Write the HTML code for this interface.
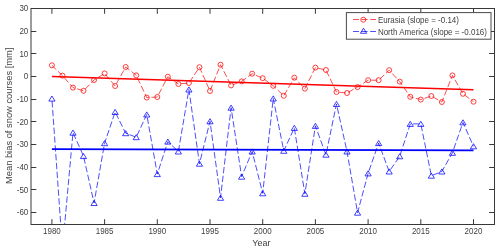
<!DOCTYPE html>
<html><head><meta charset="utf-8"><style>
html,body{margin:0;padding:0;background:#fff;}
body{width:500px;height:251px;overflow:hidden;font-family:"Liberation Sans",sans-serif;}
svg{display:block;will-change:transform;}
</style></head><body>
<svg width="500" height="251" viewBox="0 0 500 251">
<defs><clipPath id="c"><rect x="31.0" y="8.5" width="463.5" height="216.0"/></clipPath></defs>
<g clip-path="url(#c)" fill="none">
<polyline points="51.90,65.30 62.44,75.60 72.98,87.60 83.52,90.80 94.06,80.00 104.60,73.40 115.14,86.00 125.68,67.00 136.22,75.30 146.76,97.60 157.30,97.00 167.84,76.70 178.38,84.00 188.92,83.00 199.46,67.20 210.00,91.00 220.54,64.70 231.08,85.40 241.62,81.40 252.16,73.70 262.70,78.20 273.24,85.80 283.78,95.80 294.32,77.70 304.86,88.60 315.40,67.60 325.94,70.00 336.48,92.00 347.02,93.00 357.56,87.10 368.10,80.20 378.64,80.20 389.18,70.20 399.72,81.60 410.26,96.80 420.80,99.60 431.34,96.00 441.88,102.00 452.42,75.40 462.96,93.80 473.50,101.70" stroke="#ff0000" stroke-width="0.7" stroke-dasharray="6.35 2.5" stroke-dashoffset="0.25"/>
<polyline points="51.90,98.60 62.44,249.00 72.98,132.70 83.52,156.10 94.06,203.00 104.60,143.20 115.14,112.00 125.68,133.20 136.22,137.20 146.76,114.50 157.30,174.10 167.84,141.60 178.38,151.50 188.92,89.50 199.46,163.70 210.00,121.30 220.54,197.80 231.08,107.70 241.62,176.70 252.16,151.50 262.70,193.30 273.24,98.50 283.78,150.80 294.32,127.90 304.86,193.80 315.40,125.90 325.94,154.70 336.48,104.00 347.02,151.50 357.56,212.70 368.10,173.40 378.64,143.10 389.18,171.50 399.72,156.30 410.26,123.90 420.80,123.90 431.34,175.70 441.88,171.50 452.42,152.80 462.96,122.40 473.50,146.30" stroke="#0000ff" stroke-width="0.7" stroke-dasharray="6.35 2.5" stroke-dashoffset="6.35"/>
<line x1="51.90" y1="76.45" x2="473.50" y2="89.75" stroke="#ff0000" stroke-width="1.6"/>
<line x1="51.90" y1="149.1" x2="473.50" y2="150.4" stroke="#0000ff" stroke-width="1.6"/>
<circle cx="51.90" cy="65.30" r="2.5" stroke="#ff0000" stroke-width="0.75"/>
<circle cx="62.44" cy="75.60" r="2.5" stroke="#ff0000" stroke-width="0.75"/>
<circle cx="72.98" cy="87.60" r="2.5" stroke="#ff0000" stroke-width="0.75"/>
<circle cx="83.52" cy="90.80" r="2.5" stroke="#ff0000" stroke-width="0.75"/>
<circle cx="94.06" cy="80.00" r="2.5" stroke="#ff0000" stroke-width="0.75"/>
<circle cx="104.60" cy="73.40" r="2.5" stroke="#ff0000" stroke-width="0.75"/>
<circle cx="115.14" cy="86.00" r="2.5" stroke="#ff0000" stroke-width="0.75"/>
<circle cx="125.68" cy="67.00" r="2.5" stroke="#ff0000" stroke-width="0.75"/>
<circle cx="136.22" cy="75.30" r="2.5" stroke="#ff0000" stroke-width="0.75"/>
<circle cx="146.76" cy="97.60" r="2.5" stroke="#ff0000" stroke-width="0.75"/>
<circle cx="157.30" cy="97.00" r="2.5" stroke="#ff0000" stroke-width="0.75"/>
<circle cx="167.84" cy="76.70" r="2.5" stroke="#ff0000" stroke-width="0.75"/>
<circle cx="178.38" cy="84.00" r="2.5" stroke="#ff0000" stroke-width="0.75"/>
<circle cx="188.92" cy="83.00" r="2.5" stroke="#ff0000" stroke-width="0.75"/>
<circle cx="199.46" cy="67.20" r="2.5" stroke="#ff0000" stroke-width="0.75"/>
<circle cx="210.00" cy="91.00" r="2.5" stroke="#ff0000" stroke-width="0.75"/>
<circle cx="220.54" cy="64.70" r="2.5" stroke="#ff0000" stroke-width="0.75"/>
<circle cx="231.08" cy="85.40" r="2.5" stroke="#ff0000" stroke-width="0.75"/>
<circle cx="241.62" cy="81.40" r="2.5" stroke="#ff0000" stroke-width="0.75"/>
<circle cx="252.16" cy="73.70" r="2.5" stroke="#ff0000" stroke-width="0.75"/>
<circle cx="262.70" cy="78.20" r="2.5" stroke="#ff0000" stroke-width="0.75"/>
<circle cx="273.24" cy="85.80" r="2.5" stroke="#ff0000" stroke-width="0.75"/>
<circle cx="283.78" cy="95.80" r="2.5" stroke="#ff0000" stroke-width="0.75"/>
<circle cx="294.32" cy="77.70" r="2.5" stroke="#ff0000" stroke-width="0.75"/>
<circle cx="304.86" cy="88.60" r="2.5" stroke="#ff0000" stroke-width="0.75"/>
<circle cx="315.40" cy="67.60" r="2.5" stroke="#ff0000" stroke-width="0.75"/>
<circle cx="325.94" cy="70.00" r="2.5" stroke="#ff0000" stroke-width="0.75"/>
<circle cx="336.48" cy="92.00" r="2.5" stroke="#ff0000" stroke-width="0.75"/>
<circle cx="347.02" cy="93.00" r="2.5" stroke="#ff0000" stroke-width="0.75"/>
<circle cx="357.56" cy="87.10" r="2.5" stroke="#ff0000" stroke-width="0.75"/>
<circle cx="368.10" cy="80.20" r="2.5" stroke="#ff0000" stroke-width="0.75"/>
<circle cx="378.64" cy="80.20" r="2.5" stroke="#ff0000" stroke-width="0.75"/>
<circle cx="389.18" cy="70.20" r="2.5" stroke="#ff0000" stroke-width="0.75"/>
<circle cx="399.72" cy="81.60" r="2.5" stroke="#ff0000" stroke-width="0.75"/>
<circle cx="410.26" cy="96.80" r="2.5" stroke="#ff0000" stroke-width="0.75"/>
<circle cx="420.80" cy="99.60" r="2.5" stroke="#ff0000" stroke-width="0.75"/>
<circle cx="431.34" cy="96.00" r="2.5" stroke="#ff0000" stroke-width="0.75"/>
<circle cx="441.88" cy="102.00" r="2.5" stroke="#ff0000" stroke-width="0.75"/>
<circle cx="452.42" cy="75.40" r="2.5" stroke="#ff0000" stroke-width="0.75"/>
<circle cx="462.96" cy="93.80" r="2.5" stroke="#ff0000" stroke-width="0.75"/>
<circle cx="473.50" cy="101.70" r="2.5" stroke="#ff0000" stroke-width="0.75"/>
<path d="M51.90,96.00 L55.00,101.10 L48.80,101.10Z" stroke="#0000ff" stroke-width="0.75"/>
<path d="M62.44,246.40 L65.54,251.50 L59.34,251.50Z" stroke="#0000ff" stroke-width="0.75"/>
<path d="M72.98,130.10 L76.08,135.20 L69.88,135.20Z" stroke="#0000ff" stroke-width="0.75"/>
<path d="M83.52,153.50 L86.62,158.60 L80.42,158.60Z" stroke="#0000ff" stroke-width="0.75"/>
<path d="M94.06,200.40 L97.16,205.50 L90.96,205.50Z" stroke="#0000ff" stroke-width="0.75"/>
<path d="M104.60,140.60 L107.70,145.70 L101.50,145.70Z" stroke="#0000ff" stroke-width="0.75"/>
<path d="M115.14,109.40 L118.24,114.50 L112.04,114.50Z" stroke="#0000ff" stroke-width="0.75"/>
<path d="M125.68,130.60 L128.78,135.70 L122.58,135.70Z" stroke="#0000ff" stroke-width="0.75"/>
<path d="M136.22,134.60 L139.32,139.70 L133.12,139.70Z" stroke="#0000ff" stroke-width="0.75"/>
<path d="M146.76,111.90 L149.86,117.00 L143.66,117.00Z" stroke="#0000ff" stroke-width="0.75"/>
<path d="M157.30,171.50 L160.40,176.60 L154.20,176.60Z" stroke="#0000ff" stroke-width="0.75"/>
<path d="M167.84,139.00 L170.94,144.10 L164.74,144.10Z" stroke="#0000ff" stroke-width="0.75"/>
<path d="M178.38,148.90 L181.48,154.00 L175.28,154.00Z" stroke="#0000ff" stroke-width="0.75"/>
<path d="M188.92,86.90 L192.02,92.00 L185.82,92.00Z" stroke="#0000ff" stroke-width="0.75"/>
<path d="M199.46,161.10 L202.56,166.20 L196.36,166.20Z" stroke="#0000ff" stroke-width="0.75"/>
<path d="M210.00,118.70 L213.10,123.80 L206.90,123.80Z" stroke="#0000ff" stroke-width="0.75"/>
<path d="M220.54,195.20 L223.64,200.30 L217.44,200.30Z" stroke="#0000ff" stroke-width="0.75"/>
<path d="M231.08,105.10 L234.18,110.20 L227.98,110.20Z" stroke="#0000ff" stroke-width="0.75"/>
<path d="M241.62,174.10 L244.72,179.20 L238.52,179.20Z" stroke="#0000ff" stroke-width="0.75"/>
<path d="M252.16,148.90 L255.26,154.00 L249.06,154.00Z" stroke="#0000ff" stroke-width="0.75"/>
<path d="M262.70,190.70 L265.80,195.80 L259.60,195.80Z" stroke="#0000ff" stroke-width="0.75"/>
<path d="M273.24,95.90 L276.34,101.00 L270.14,101.00Z" stroke="#0000ff" stroke-width="0.75"/>
<path d="M283.78,148.20 L286.88,153.30 L280.68,153.30Z" stroke="#0000ff" stroke-width="0.75"/>
<path d="M294.32,125.30 L297.42,130.40 L291.22,130.40Z" stroke="#0000ff" stroke-width="0.75"/>
<path d="M304.86,191.20 L307.96,196.30 L301.76,196.30Z" stroke="#0000ff" stroke-width="0.75"/>
<path d="M315.40,123.30 L318.50,128.40 L312.30,128.40Z" stroke="#0000ff" stroke-width="0.75"/>
<path d="M325.94,152.10 L329.04,157.20 L322.84,157.20Z" stroke="#0000ff" stroke-width="0.75"/>
<path d="M336.48,101.40 L339.58,106.50 L333.38,106.50Z" stroke="#0000ff" stroke-width="0.75"/>
<path d="M347.02,148.90 L350.12,154.00 L343.92,154.00Z" stroke="#0000ff" stroke-width="0.75"/>
<path d="M357.56,210.10 L360.66,215.20 L354.46,215.20Z" stroke="#0000ff" stroke-width="0.75"/>
<path d="M368.10,170.80 L371.20,175.90 L365.00,175.90Z" stroke="#0000ff" stroke-width="0.75"/>
<path d="M378.64,140.50 L381.74,145.60 L375.54,145.60Z" stroke="#0000ff" stroke-width="0.75"/>
<path d="M389.18,168.90 L392.28,174.00 L386.08,174.00Z" stroke="#0000ff" stroke-width="0.75"/>
<path d="M399.72,153.70 L402.82,158.80 L396.62,158.80Z" stroke="#0000ff" stroke-width="0.75"/>
<path d="M410.26,121.30 L413.36,126.40 L407.16,126.40Z" stroke="#0000ff" stroke-width="0.75"/>
<path d="M420.80,121.30 L423.90,126.40 L417.70,126.40Z" stroke="#0000ff" stroke-width="0.75"/>
<path d="M431.34,173.10 L434.44,178.20 L428.24,178.20Z" stroke="#0000ff" stroke-width="0.75"/>
<path d="M441.88,168.90 L444.98,174.00 L438.78,174.00Z" stroke="#0000ff" stroke-width="0.75"/>
<path d="M452.42,150.20 L455.52,155.30 L449.32,155.30Z" stroke="#0000ff" stroke-width="0.75"/>
<path d="M462.96,119.80 L466.06,124.90 L459.86,124.90Z" stroke="#0000ff" stroke-width="0.75"/>
<path d="M473.50,143.70 L476.60,148.80 L470.40,148.80Z" stroke="#0000ff" stroke-width="0.75"/>
</g>
<rect x="31.0" y="8.5" width="463.5" height="216.0" fill="none" stroke="#383838" stroke-width="1"/>
<path d="M31.0,8.5h5.3M494.5,8.5h-5.3M31.0,31.5h5.3M494.5,31.5h-5.3M31.0,53.5h5.3M494.5,53.5h-5.3M31.0,76.5h5.3M494.5,76.5h-5.3M31.0,99.5h5.3M494.5,99.5h-5.3M31.0,121.5h5.3M494.5,121.5h-5.3M31.0,144.5h5.3M494.5,144.5h-5.3M31.0,167.5h5.3M494.5,167.5h-5.3M31.0,189.5h5.3M494.5,189.5h-5.3M31.0,212.5h5.3M494.5,212.5h-5.3M51.9,224.5v-5.3M51.9,8.5v5.3M104.6,224.5v-5.3M104.6,8.5v5.3M157.3,224.5v-5.3M157.3,8.5v5.3M210.0,224.5v-5.3M210.0,8.5v5.3M262.7,224.5v-5.3M262.7,8.5v5.3M315.4,224.5v-5.3M315.4,8.5v5.3M368.1,224.5v-5.3M368.1,8.5v5.3M420.8,224.5v-5.3M420.8,8.5v5.3M473.5,224.5v-5.3M473.5,8.5v5.3" stroke="#383838" stroke-width="1" fill="none"/>
<g font-family="Liberation Sans, sans-serif" font-size="8" fill="#3f3f3f">
<text transform="translate(28.3,11.40) scale(1,1.12)" text-anchor="end">30</text>
<text transform="translate(28.3,34.07) scale(1,1.12)" text-anchor="end">20</text>
<text transform="translate(28.3,56.73) scale(1,1.12)" text-anchor="end">10</text>
<text transform="translate(28.3,79.40) scale(1,1.12)" text-anchor="end">0</text>
<text transform="translate(28.3,102.07) scale(1,1.12)" text-anchor="end">-10</text>
<text transform="translate(28.3,124.74) scale(1,1.12)" text-anchor="end">-20</text>
<text transform="translate(28.3,147.40) scale(1,1.12)" text-anchor="end">-30</text>
<text transform="translate(28.3,170.07) scale(1,1.12)" text-anchor="end">-40</text>
<text transform="translate(28.3,192.74) scale(1,1.12)" text-anchor="end">-50</text>
<text transform="translate(28.3,215.40) scale(1,1.12)" text-anchor="end">-60</text>
<text transform="translate(51.90,234) scale(1,1.12)" text-anchor="middle">1980</text>
<text transform="translate(104.60,234) scale(1,1.12)" text-anchor="middle">1985</text>
<text transform="translate(157.30,234) scale(1,1.12)" text-anchor="middle">1990</text>
<text transform="translate(210.00,234) scale(1,1.12)" text-anchor="middle">1995</text>
<text transform="translate(262.70,234) scale(1,1.12)" text-anchor="middle">2000</text>
<text transform="translate(315.40,234) scale(1,1.12)" text-anchor="middle">2005</text>
<text transform="translate(368.10,234) scale(1,1.12)" text-anchor="middle">2010</text>
<text transform="translate(420.80,234) scale(1,1.12)" text-anchor="middle">2015</text>
<text transform="translate(473.50,234) scale(1,1.12)" text-anchor="middle">2020</text>
<text transform="translate(261.4,246) scale(1,1.06)" text-anchor="middle" font-size="9">Year</text>
<text transform="translate(12.2,115.8) rotate(-90) scale(1.1,1)" text-anchor="middle" font-size="8.5">Mean bias of snow courses [mm]</text>
</g>
<rect x="346.4" y="12.6" width="144.6" height="26.6" fill="#fff" stroke="#4a4a4a" stroke-width="1"/>
<line x1="353" y1="19.5" x2="376" y2="19.5" stroke="#ff0000" stroke-width="0.7" stroke-dasharray="6 2.6"/>
<circle cx="363.3" cy="19.7" r="2.5" fill="none" stroke="#ff0000" stroke-width="0.75"/>
<line x1="353" y1="31.5" x2="376" y2="31.5" stroke="#0000ff" stroke-width="0.7" stroke-dasharray="6 2.6"/>
<path d="M363.50,28.20 L366.60,33.30 L360.40,33.30Z" fill="none" stroke="#0000ff" stroke-width="0.75"/>
<g font-family="Liberation Sans, sans-serif" font-size="8" fill="#3f3f3f">
<text transform="translate(377.9,23.0) scale(1,1.12)">Eurasia (slope = -0.14)</text>
<text transform="translate(377.9,35.0) scale(1,1.12)">North America (slope = -0.016)</text>
</g>
</svg>
</body></html>
